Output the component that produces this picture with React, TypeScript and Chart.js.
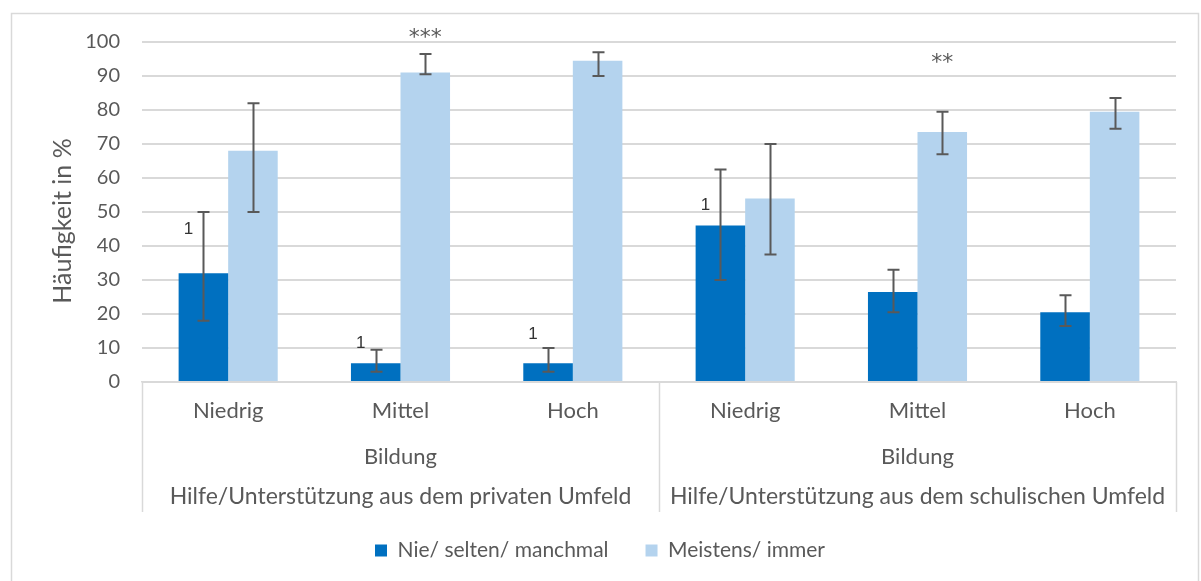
import React, { useEffect, useRef } from "react";
import { Chart, registerables } from "chart.js";

Chart.register(...registerables);

// Category levels of the x axis
const levels = ["Niedrig", "Mittel", "Hoch", "Niedrig", "Mittel", "Hoch"];
const subGroupLabel = "Bildung";
const groupLabels = [
  "Hilfe/Unterstützung aus dem privaten Umfeld",
  "Hilfe/Unterstützung aus dem schulischen Umfeld",
];
const groupSizes = [3, 3];

// Series
const seriesNames = ["Nie/ selten/ manchmal", "Meistens/ immer"];
const rarelyValues = [32, 5.5, 5.5, 46, 26.5, 20.5];
const rarelyLow = [18, 3, 3, 30, 20.5, 16.5];
const rarelyHigh = [50, 9.5, 10, 62.5, 33, 25.5];
const mostlyValues = [68, 91, 94.5, 54, 73.5, 79.5];
const mostlyLow = [50, 90.5, 90, 37.5, 67, 74.5];
const mostlyHigh = [82, 96.5, 97, 70, 79.5, 83.5];

// Footnote markers and significance stars
const rarelyNotes = ["1", "1", "1", "1", "", ""];
const mostlyNotes = ["", "***", "", "", "**", ""];

const yTicks = [0, 10, 20, 30, 40, 50, 60, 70, 80, 90, 100];
const yTitle = "Häufigkeit in %";

const FONT = "Lato, 'Open Sans', sans-serif";
const TEXT = "#595959";
const LINE = "#d9d9d9";
const DARK = "#0070c0";
const LIGHT = "#b4d3ee";

// Vertical anchor (in axis units) of each marker text
const rarelyNoteY = [45, 11.5, 14, 52, 0, 0];
const mostlyNoteY = [0, 102, 0, 0, 94.5, 0];

const errorBars = [
  { low: rarelyLow, high: rarelyHigh },
  { low: mostlyLow, high: mostlyHigh },
];

const decorations = {
  id: "decorations",
  beforeDraw(chart: any) {
    const { ctx } = chart;
    ctx.save();
    ctx.strokeStyle = LINE;
    ctx.lineWidth = 1.5;
    ctx.strokeRect(11.5, 13.5, 1187, 580);
    ctx.restore();
  },
  afterDatasetsDraw(chart: any) {
    const { ctx } = chart;
    const y = chart.scales.y;
    ctx.save();
    // error bars
    ctx.strokeStyle = "#595959";
    ctx.lineWidth = 2;
    errorBars.forEach((eb, di) => {
      const meta = chart.getDatasetMeta(di);
      meta.data.forEach((bar: any, i: number) => {
        const x = Math.round(bar.x) + 0.5;
        const y1 = y.getPixelForValue(eb.low[i]);
        const y2 = y.getPixelForValue(eb.high[i]);
        ctx.beginPath();
        ctx.moveTo(x, y1);
        ctx.lineTo(x, y2);
        ctx.moveTo(x - 6, y1);
        ctx.lineTo(x + 6, y1);
        ctx.moveTo(x - 6, y2);
        ctx.lineTo(x + 6, y2);
        ctx.stroke();
      });
    });
    // markers
    ctx.textAlign = "center";
    ctx.textBaseline = "middle";
    const m0 = chart.getDatasetMeta(0);
    ctx.fillStyle = "#333333";
    ctx.font = "17px 'Liberation Sans', Arial, sans-serif";
    rarelyNotes.forEach((t, i) => {
      if (!t) return;
      ctx.fillText(t, m0.data[i].x - 15, y.getPixelForValue(rarelyNoteY[i]));
    });
    const m1 = chart.getDatasetMeta(1);
    ctx.fillStyle = TEXT;
    ctx.font = `22px 'DejaVu Sans', sans-serif`;
    mostlyNotes.forEach((t, i) => {
      if (!t) return;
      ctx.fillText(t, m1.data[i].x, y.getPixelForValue(mostlyNoteY[i]) + 3);
    });
    ctx.restore();
  },
  afterDraw(chart: any) {
    const { ctx, chartArea } = chart;
    const x = chart.scales.x;
    ctx.save();
    // y axis title
    ctx.fillStyle = TEXT;
    ctx.font = `25px ${FONT}`;
    ctx.textAlign = "center";
    ctx.textBaseline = "middle";
    ctx.translate(63, 221);
    ctx.rotate(-Math.PI / 2);
    ctx.fillText(yTitle, 0, 0);
    ctx.restore();

    ctx.save();
    const half = (x.getPixelForValue(1) - x.getPixelForValue(0)) / 2;
    const bottom = 512;
    ctx.strokeStyle = LINE;
    ctx.lineWidth = 1.5;
    let start = 0;
    const edges: number[] = [chartArea.left];
    groupSizes.forEach((n) => {
      const end = start + n - 1;
      const right = x.getPixelForValue(end) + half;
      edges.push(right);
      const cx = (x.getPixelForValue(start) - half + right) / 2;
      ctx.fillStyle = TEXT;
      ctx.textAlign = "center";
      ctx.textBaseline = "middle";
      ctx.font = `22px ${FONT}`;
      ctx.fillText(subGroupLabel, cx, 457);
      ctx.font = `23px ${FONT}`;
      ctx.fillText(groupLabels[edges.length - 2], cx, 497);
      start += n;
    });
    edges.forEach((ex) => {
      const px = Math.round(ex) + 0.5;
      ctx.beginPath();
      ctx.moveTo(px, chartArea.bottom);
      ctx.lineTo(px, bottom);
      ctx.stroke();
    });
    ctx.restore();
  },
};

export default function App() {
  const ref = useRef<HTMLCanvasElement>(null);
  useEffect(() => {
    if (!ref.current) return;
    const chart = new Chart(ref.current, {
      type: "bar",
      data: {
        labels: levels,
        datasets: [
          {
            label: seriesNames[0],
            data: rarelyValues,
            backgroundColor: DARK,
            categoryPercentage: 0.575,
            barPercentage: 1,
          },
          {
            label: seriesNames[1],
            data: mostlyValues,
            backgroundColor: LIGHT,
            categoryPercentage: 0.575,
            barPercentage: 1,
          },
        ],
      },
      options: {
        animation: false,
        responsive: true,
        maintainAspectRatio: false,
        layout: { padding: { left: 24, right: 25, top: 42, bottom: 10 } },
        plugins: {
          tooltip: { enabled: false },
          legend: {
            position: "bottom",
            labels: {
              boxWidth: 12,
              boxHeight: 12,
              padding: 37,
              color: TEXT,
              font: { family: FONT, size: 21 },
            },
          },
        },
        scales: {
          x: {
            grid: { display: false, drawTicks: false },
            border: { display: true, color: LINE, width: 1.5 },
            ticks: {
              color: TEXT,
              font: { family: FONT, size: 22 },
              padding: 16,
              maxRotation: 0,
              autoSkip: false,
            },
            afterFit(scale: any) {
              scale.height = 121;
            },
          },
          y: {
            min: 0,
            max: 100,
            afterBuildTicks(scale: any) {
              scale.ticks = yTicks.map((v) => ({ value: v }));
            },
            grid: { color: LINE, lineWidth: 2, drawTicks: false },
            border: { display: false },
            ticks: {
              color: TEXT,
              font: { family: FONT, size: 20 },
              padding: 22,
            },
            afterFit(scale: any) {
              scale.width = 118;
            },
          },
        },
      },
      plugins: [decorations],
    });
    return () => chart.destroy();
  }, []);
  return (
    <div style={{ position: "absolute", left: 0, top: 0, width: 1201, height: 581, background: "#fff" }}>
      <canvas ref={ref} />
    </div>
  );
}
